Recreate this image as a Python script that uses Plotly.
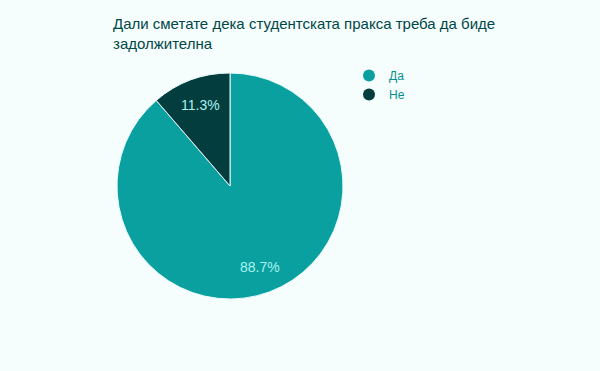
import math
import plotly.graph_objects as go

categories = ["Да", "Не"]
values = [47, 6]
colors = ["#0aa0a0", "#033d3d"]
title_text = "Дали сметате дека студентската пракса треба да биде<br>задолжителна"

total = sum(values)
fig = go.Figure()
fig.add_trace(go.Pie(
    labels=categories, values=values, sort=False, direction="clockwise", rotation=0,
    marker=dict(colors=colors, line=dict(color="#e8fbfb", width=1)),
    textinfo="none",
    showlegend=False, hoverinfo="label+percent",
    domain=dict(x=[0, 1], y=[0, 1]),
))
for c, col in zip(categories, colors):
    fig.add_trace(go.Scatter(x=[None], y=[None], mode="markers", name=c,
                             marker=dict(symbol="circle", size=11, color=col)))

# percentage labels on slice bisectors
cum = 0
for v in values:
    mid = (cum + v / 2) / total * 2 * math.pi
    cum += v
    r = 0.5 * 0.76
    fig.add_annotation(x=0.5 + r * math.sin(mid), y=0.5 + r * math.cos(mid),
                       xref="paper", yref="paper", showarrow=False,
                       xanchor="center", yanchor="middle",
                       text=f"{v / total * 100:.1f}%",
                       font=dict(family="Liberation Sans, Arial", size=14, color="#a6f3f3"))

fig.update_layout(
    width=600, height=371,
    paper_bgcolor="#f6fdfd", plot_bgcolor="#f6fdfd",
    margin=dict(l=117, r=257, t=73, b=72),
    xaxis=dict(visible=False), yaxis=dict(visible=False),
    title=dict(text=title_text, x=113/600, xanchor="left", xref="container",
               y=1-29/371, yanchor="top", yref="container",
               font=dict(family="Liberation Sans, Arial", size=15, color="#004747")),
    legend=dict(x=(349-117)/226, y=1+(73-61)/226, xanchor="left", yanchor="top",
                font=dict(family="Liberation Sans, Arial", size=12, color="#078f8f"),
                itemsizing="constant", tracegroupgap=0, bgcolor="rgba(0,0,0,0)"),
)
fig.write_html("out.html", config={"displayModeBar": False},
               post_script="document.body.style.margin='0';document.body.style.background='#f6fdfd';")
